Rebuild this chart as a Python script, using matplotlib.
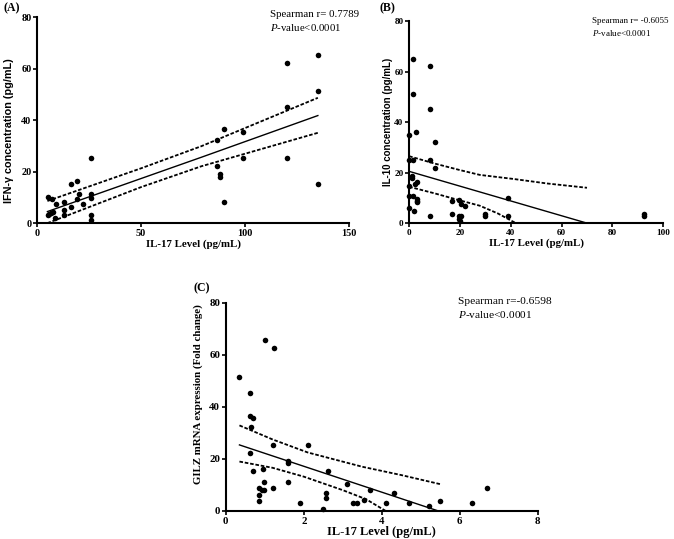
import matplotlib
matplotlib.use("Agg")
import matplotlib.pyplot as plt
import numpy as np

plt.rcParams["mathtext.fontset"] = "custom"
plt.rcParams["mathtext.it"] = "Liberation Serif:italic"
plt.rcParams["mathtext.rm"] = "Liberation Serif"

# ---------------- Data ----------------
# Panel A: IL-17 vs IFN-gamma
a_x = [5.5, 5.3, 6.0, 6.8, 7.5, 7.4, 8.5, 9.0, 13.2, 13.2, 13.2, 16.4, 16.4, 19.0, 19.0, 20.0,
       22.1, 26.1, 26.1, 26.1, 26.1, 26.1, 86.4, 86.4, 88.0, 88.0, 89.8, 89.8, 99.0, 99.0,
       120.0, 120.0, 120.0, 135.0, 135.0, 135.0]
a_y = [10.2, 3.0, 3.5, 4.0, 4.2, 9.2, 2.0, 7.3, 8.3, 5.0, 3.3, 15.1, 6.3, 16.2, 9.2, 11.5,
       7.4, 25.4, 11.3, 9.6, 3.2, 1.2, 32.4, 22.1, 19.2, 18.1, 36.4, 8.2, 35.5, 25.2,
       62.3, 45.2, 25.2, 65.2, 51.3, 15.3]
a_fit_x = [5, 79, 135]
a_fit_y = [4.5, 25.6, 41.8]
a_up_x = [5, 50, 79, 135]
a_up_y = [8.6, 21.3, 29.9, 48.7]
a_lo_x = [5, 50, 79, 135]
a_lo_y = [0.0, 14.0, 22.1, 35.1]

# Panel B: IL-17 vs IL-10
b_x = [1.7, 8.3, 1.7, 8.3, 2.8, 0.0, 10.3, 0.0, 1.7, 8.3, 10.3, 1.0, 1.2, 0.0, 3.0, 2.3,
       0.0, 1.7, 3.0, 3.0, 3.0, 0.0, 2.0, 8.3, 16.7, 16.7, 19.6, 20.3, 21.9, 19.6, 20.3,
       19.6, 20.0, 30.0, 30.0, 38.8, 38.8, 92.4, 92.4]
b_y = [65.0, 62.1, 51.1, 45.0, 36.2, 35.0, 32.0, 25.0, 25.0, 25.0, 21.9, 18.7, 17.9, 14.8,
       16.2, 15.5, 10.9, 10.9, 8.9, 8.2, 9.5, 6.0, 4.9, 2.8, 8.9, 3.8, 9.3, 7.5, 6.9, 2.8,
       2.9, 1.6, 0.8, 3.8, 2.8, 9.9, 2.8, 3.8, 2.8]
b_fit_x = [0, 70]
b_fit_y = [20.5, 0.0]
b_up_x = [0, 10, 20, 27.8, 41, 54.3, 70]
b_up_y = [26.5, 23.6, 21.0, 19.1, 17.5, 15.7, 14.0]
b_lo_x = [0, 10, 20, 27.8, 35, 42]
b_lo_y = [14.4, 11.8, 9.0, 6.9, 3.8, 0.0]

# Panel C: IL-17 vs GILZ mRNA expression
c_x = [0.35, 1.0, 1.24, 0.62, 0.62, 0.69, 0.65, 0.62, 1.2, 2.11, 1.59, 1.59, 0.69, 0.95,
       2.61, 0.97, 1.59, 0.86, 0.92, 0.97, 1.2, 0.85, 0.86, 1.9, 2.5, 2.56, 2.56, 3.1,
       3.27, 3.36, 3.55, 3.7, 4.1, 4.32, 4.69, 5.2, 5.5, 6.3, 6.7]
c_y = [51.5, 65.7, 62.5, 45.4, 36.5, 35.6, 32.3, 22.2, 25.2, 25.2, 19.4, 18.3, 15.4, 16.3,
       15.2, 11.1, 11.1, 9.0, 8.1, 8.1, 9.0, 6.1, 4.0, 3.0, 0.9, 7.0, 5.0, 10.2,
       3.0, 3.0, 4.1, 8.1, 3.0, 7.0, 3.0, 1.9, 4.0, 3.0, 9.0]
c_fit_x = [0.35, 5.45]
c_fit_y = [25.4, 0.0]
c_up_x = [0.35, 1.2, 2.1, 3.5, 4.5, 5.5]
c_up_y = [32.9, 27.5, 22.5, 17.0, 13.8, 10.3]
c_lo_x = [0.35, 1.2, 2.0, 3.0, 3.6, 4.1]
c_lo_y = [19.0, 16.6, 13.2, 8.0, 4.5, 0.0]

# ---------------- Figure ----------------
fig = plt.figure(figsize=(6.74, 5.39), dpi=100)

SERIF = "Liberation Serif"
SANS = "Liberation Sans"


def style_ax(ax, xlim, xticks, ylim, yticks, tsize=7.0):
    ax.set_xlim(*xlim)
    ax.set_ylim(*ylim)
    ax.set_xticks(xticks)
    ax.set_yticks(yticks)
    for s in ("top", "right"):
        ax.spines[s].set_visible(False)
    for s in ("left", "bottom"):
        ax.spines[s].set_linewidth(1.5)
    ax.tick_params(direction="out", length=3, width=1.2, pad=1)
    for lab in ax.get_xticklabels() + ax.get_yticklabels():
        lab.set_fontfamily(SERIF)
        lab.set_fontweight("bold")
        lab.set_fontsize(tsize)


def draw(ax, x, y, fx, fy, ux, uy, lx, ly):
    ax.scatter(x, y, s=16, color="black", zorder=3, clip_on=False, linewidths=0)
    ax.plot(fx, fy, color="black", lw=1.0)
    ax.plot(ux, uy, color="black", lw=1.3, ls=(0, (2, 1)))
    ax.plot(lx, ly, color="black", lw=1.3, ls=(0, (2, 1)))


# Panel A
axA = fig.add_axes([0.0549, 0.586, 0.463, 0.382])
draw(axA, a_x, a_y, a_fit_x, a_fit_y, a_up_x, a_up_y, a_lo_x, a_lo_y)
style_ax(axA, (0, 150), [0, 50, 100, 150], (0, 80), [0, 20, 40, 60, 80], tsize=7.4)
axA.set_xlabel("IL-17 Level (pg/mL)", family=SERIF, weight="bold", fontsize=7.8, labelpad=1)
axA.set_ylabel("IFN-γ concentration (pg/mL)", family=SANS, weight="bold", fontsize=7.8, labelpad=2)
axA.yaxis.set_label_coords(-0.075, 0.45)

# Panel B
axB = fig.add_axes([0.607, 0.586, 0.377, 0.375])
draw(axB, b_x, b_y, b_fit_x, b_fit_y, b_up_x, b_up_y, b_lo_x, b_lo_y)
style_ax(axB, (0, 100), [0, 20, 40, 60, 80, 100], (0, 80), [0, 20, 40, 60, 80], tsize=6.6)
axB.set_xlabel("IL-17 Level (pg/mL)", family=SERIF, weight="bold", fontsize=7.8, labelpad=1)
axB.set_ylabel("IL-10 concentration (pg/mL)", family=SANS, weight="bold", fontsize=7.0, labelpad=1)

# Panel C
axC = fig.add_axes([0.335, 0.052, 0.463, 0.386])
draw(axC, c_x, c_y, c_fit_x, c_fit_y, c_up_x, c_up_y, c_lo_x, c_lo_y)
style_ax(axC, (0, 8), [0, 2, 4, 6, 8], (0, 80), [0, 20, 40, 60, 80], tsize=7.8)
axC.set_xlabel("IL-17 Level (pg/mL)", family=SERIF, weight="bold", fontsize=9.0, labelpad=0)
axC.set_ylabel("GILZ mRNA expression (Fold change)", family=SERIF, weight="bold", fontsize=7.8, labelpad=2)
axC.yaxis.set_label_coords(-0.072, 0.56)

# Annotations (figure pixel coordinates converted)
W, H = 674, 539


def ftext(px, py, s, **kw):
    fig.text(px / W, 1 - py / H, s, **kw)


ann = dict(family="Liberation Serif", fontsize=7.8, va="top")
ftext(270, 10, "Spearman r= 0.7789", **ann)
ftext(270, 22, "$\\it{P}$-value<0.0001", **ann)

annB = dict(family="Liberation Serif", fontsize=6.5, va="top")
ftext(592, 17, "Spearman r= -0.6055", **annB)
ftext(592, 28, "$\\it{P}$-value<0.0001", **annB)

annC = dict(family="Liberation Serif", fontsize=8.2, va="top")
ftext(458, 297, "Spearman r=-0.6598", **annC)
ftext(458, 309, "$\\it{P}$-value<0.0001", **annC)

pl = dict(family=SERIF, weight="bold", fontsize=8.5, va="top")
ftext(4, 2, "(A)", **pl)
ftext(379, 2, "(B)", **pl)
ftext(193, 282, "(C)", **pl)

fig.savefig("out.png", dpi=100)
